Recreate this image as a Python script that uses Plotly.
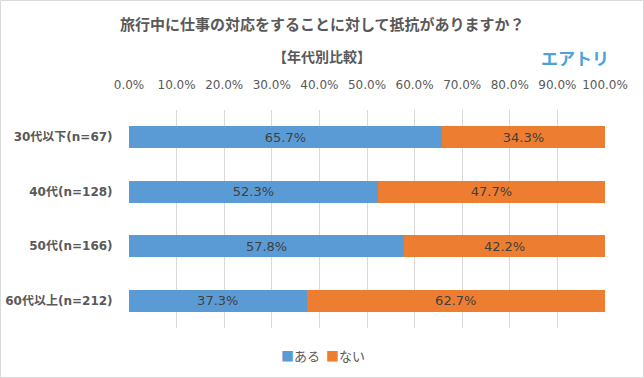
import plotly.graph_objects as go

categories = ["30代以下(n=67)", "40代(n=128)", "50代(n=166)", "60代以上(n=212)"]
aru = [65.7, 52.3, 57.8, 37.3]
nai = [34.3, 47.7, 42.2, 62.7]
series_names = ["ある", "ない"]
series_colors = ["#5B9BD5", "#ED7D31"]
tick_vals = [0, 10, 20, 30, 40, 50, 60, 70, 80, 90, 100]
tick_text = [f"{v:.1f}%" for v in tick_vals]

FONT = "Noto Sans CJK JP"
NUMFONT = "DejaVu Sans, Noto Sans CJK JP"
fig = go.Figure()
for name, vals, col in zip(series_names, [aru, nai], series_colors):
    fig.add_trace(go.Bar(
        y=categories, x=vals, orientation="h", name=name,
        marker=dict(color=col, line=dict(width=0)),
        text=[f"{v:.1f}%" for v in vals], textposition="inside",
        insidetextanchor="middle",
        textfont=dict(color="#404040", size=13, family=NUMFONT),
        hoverinfo="skip", showlegend=False))

W, H = 644, 378
L, R, T, B = 129, 39, 110, 50
pw, ph = W - L - R, H - T - B

fig.update_layout(
    width=W, height=H, barmode="stack", bargap=0.59,
    margin=dict(l=L, r=R, t=T, b=B, autoexpand=False),
    paper_bgcolor="white", plot_bgcolor="white",
    font=dict(family=FONT, color="#595959", size=12),
    showlegend=False,
    xaxis=dict(range=[0, 100], side="top", tickvals=tick_vals, ticktext=tick_text,
               showgrid=True, gridcolor="#d9d9d9", gridwidth=1, zeroline=False,
               tickfont=dict(size=12, color="#595959", family=NUMFONT),
               ticks="outside", ticklen=15, tickcolor="rgba(0,0,0,0)",
               automargin=False, fixedrange=True),
    yaxis=dict(autorange="reversed", showgrid=False, zeroline=False, automargin=False,
               tickfont=dict(size=12, color="#595959", weight="bold", family=NUMFONT),
               ticks="outside", ticklen=13, tickcolor="rgba(0,0,0,0)", fixedrange=True),
    uniformtext=dict(mode="show", minsize=8),
)

def py(ypix):
    return 1 + (T - ypix) / ph

def px(xpix):
    return (xpix - L) / pw

fig.add_annotation(text="<b>旅行中に仕事の対応をすることに対して抵抗がありますか？</b>",
                   xref="paper", yref="paper", x=px(322), y=py(24), showarrow=False,
                   font=dict(size=15, color="#595959", family=FONT),
                   xanchor="center", yanchor="middle")
fig.add_annotation(text="<b>【年代別比較】</b>", xref="paper", yref="paper",
                   x=px(322), y=py(56), showarrow=False,
                   font=dict(size=14, color="#595959", family=FONT),
                   xanchor="center", yanchor="middle")
fig.add_annotation(text="<b>エアトリ</b>", xref="paper", yref="paper",
                   x=px(575), y=py(57), showarrow=False,
                   font=dict(size=17, color="#4BA3DA", family=FONT),
                   xanchor="center", yanchor="middle")
# legend as annotations
legend_x = [300, 345]
for name, col, lx in zip(series_names, series_colors, legend_x):
    fig.add_annotation(text=f"<span style='color:{col}'>■</span>{name}",
                       xref="paper", yref="paper", x=px(lx), y=py(355),
                       showarrow=False, font=dict(size=13, color="#595959", family=FONT),
                       xanchor="center", yanchor="middle")
# border
fig.add_shape(type="rect", xref="paper", yref="paper",
              x0=-(L - 0.5) / pw, x1=(W - L - 0.5) / pw,
              y0=-(B - 0.5) / ph, y1=1 + (T - 0.5) / ph,
              line=dict(color="#d9d9d9", width=1), fillcolor="rgba(0,0,0,0)", layer="below")

fig.write_html("out.html", config={"displayModeBar": False},
               post_script="document.body.style.margin='0';document.body.style.overflow='hidden';")
